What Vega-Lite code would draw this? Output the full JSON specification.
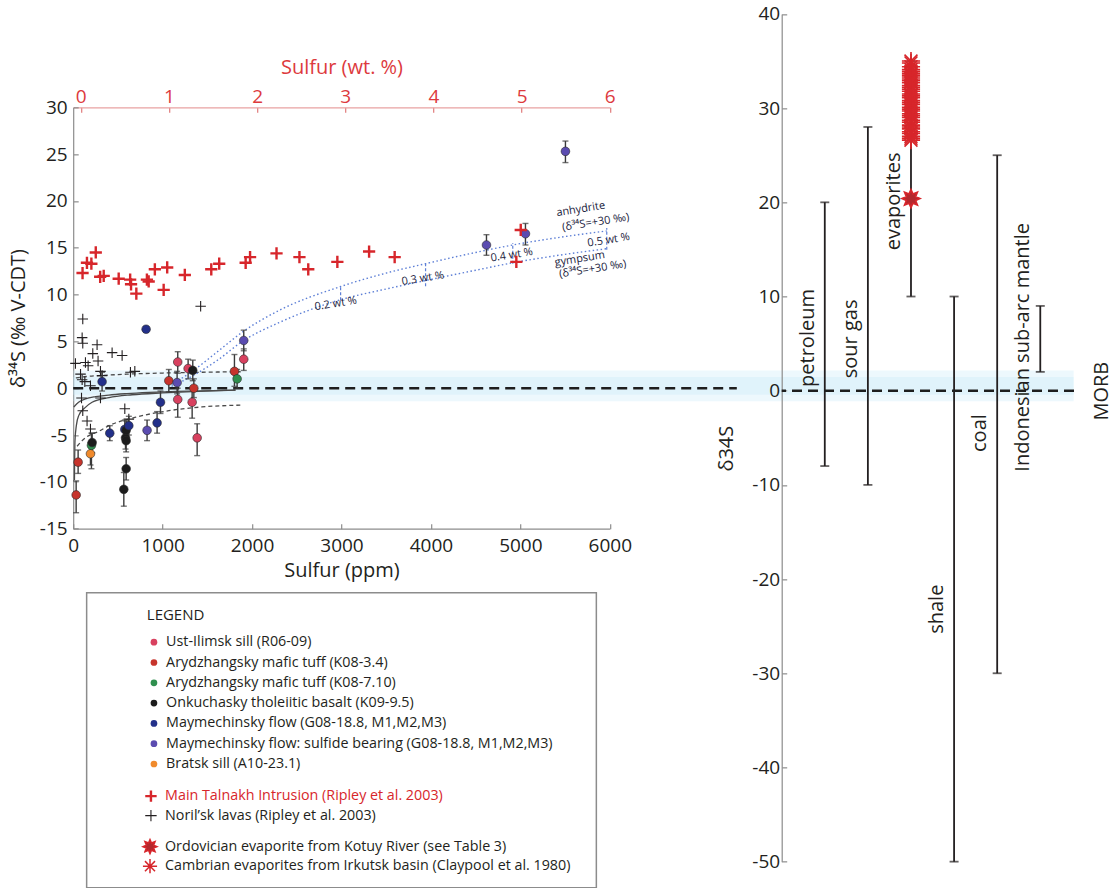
{
  "$schema": "https://vega.github.io/schema/vega-lite/v6.json",
  "background": "white",
  "padding": {"left": 8, "top": 4, "right": 4, "bottom": 0},
  "config": {
    "font": "Open Sans",
    "view": {"stroke": null},
    "axis": {
      "grid": false,
      "labelFont": "Open Sans",
      "titleFont": "Open Sans",
      "labelFontSize": 19,
      "titleFontSize": 20,
      "titleFontWeight": "normal",
      "labelColor": "#231f20",
      "titleColor": "#231f20",
      "domainColor": "#8c8c8c",
      "tickColor": "#8c8c8c",
      "domainWidth": 1.2,
      "tickWidth": 1.2,
      "tickSize": -5,
      "labelOverlap": false,
      "labelFlush": false
    },
    "legend": {
      "labelFont": "Open Sans",
      "titleFont": "Open Sans",
      "labelFontSize": 14.3,
      "labelColor": "#231f20",
      "labelLimit": 700
    }
  },
  "datasets": {
    "morb": [{"reference": "MORB", "d34S": 0}],
    "dots": [
      {"series": "Arydzhangsky mafic tuff (K08-3.4)", "S_ppm": 33, "d34S": -11.4, "lo": -13.3, "hi": -9.9},
      {"series": "Arydzhangsky mafic tuff (K08-3.4)", "S_ppm": 55, "d34S": -7.9, "lo": -9.1, "hi": -6.6},
      {"series": "Bratsk sill (A10-23.1)", "S_ppm": 193, "d34S": -7.0, "lo": -8.2, "hi": -5.8},
      {"series": "Arydzhangsky mafic tuff (K08-7.10)", "S_ppm": 204, "d34S": -6.1, "lo": -8.6, "hi": -4.8},
      {"series": "Onkuchasky tholeiitic basalt (K09-9.5)", "S_ppm": 212, "d34S": -5.8, "lo": -6.9, "hi": -4.8},
      {"series": "Maymechinsky flow (G08-18.8, M1,M2,M3)", "S_ppm": 323, "d34S": 0.7, "lo": -0.3, "hi": 1.7},
      {"series": "Maymechinsky flow (G08-18.8, M1,M2,M3)", "S_ppm": 409, "d34S": -4.8, "lo": -5.6, "hi": -4.0},
      {"series": "Onkuchasky tholeiitic basalt (K09-9.5)", "S_ppm": 566, "d34S": -10.8, "lo": -12.6, "hi": -9.0},
      {"series": "Maymechinsky flow (G08-18.8, M1,M2,M3)", "S_ppm": 577, "d34S": -4.4, "lo": -5.4, "hi": -3.4},
      {"series": "Onkuchasky tholeiitic basalt (K09-9.5)", "S_ppm": 585, "d34S": -5.3, "lo": -6.5, "hi": -4.1},
      {"series": "Onkuchasky tholeiitic basalt (K09-9.5)", "S_ppm": 592, "d34S": -5.6, "lo": -6.8, "hi": -4.4},
      {"series": "Onkuchasky tholeiitic basalt (K09-9.5)", "S_ppm": 592, "d34S": -8.6, "lo": -9.8, "hi": -7.4},
      {"series": "Onkuchasky tholeiitic basalt (K09-9.5)", "S_ppm": 592, "d34S": -4.5, "lo": -5.5, "hi": -3.5},
      {"series": "Maymechinsky flow (G08-18.8, M1,M2,M3)", "S_ppm": 622, "d34S": -4.0, "lo": -5.0, "hi": -3.0},
      {"series": "Maymechinsky flow (G08-18.8, M1,M2,M3)", "S_ppm": 815, "d34S": 6.3, "lo": 6.0, "hi": 6.6},
      {"series": "Maymechinsky flow: sulfide bearing (G08-18.8, M1,M2,M3)", "S_ppm": 826, "d34S": -4.5, "lo": -5.6, "hi": -3.4},
      {"series": "Maymechinsky flow (G08-18.8, M1,M2,M3)", "S_ppm": 938, "d34S": -3.7, "lo": -4.8, "hi": -2.5},
      {"series": "Maymechinsky flow (G08-18.8, M1,M2,M3)", "S_ppm": 976, "d34S": -1.5, "lo": -2.7, "hi": -0.3},
      {"series": "Arydzhangsky mafic tuff (K08-3.4)", "S_ppm": 1069, "d34S": 0.8, "lo": -0.4, "hi": 2.0},
      {"series": "Maymechinsky flow: sulfide bearing (G08-18.8, M1,M2,M3)", "S_ppm": 1162, "d34S": 0.6, "lo": -0.6, "hi": 1.8},
      {"series": "Ust-Ilimsk sill (R06-09)", "S_ppm": 1169, "d34S": 2.8, "lo": 1.6, "hi": 3.9},
      {"series": "Ust-Ilimsk sill (R06-09)", "S_ppm": 1169, "d34S": -1.2, "lo": -3.1, "hi": 0.0},
      {"series": "Ust-Ilimsk sill (R06-09)", "S_ppm": 1285, "d34S": 2.1, "lo": 1.0, "hi": 3.1},
      {"series": "Ust-Ilimsk sill (R06-09)", "S_ppm": 1330, "d34S": -1.5, "lo": -3.2, "hi": 0.1},
      {"series": "Onkuchasky tholeiitic basalt (K09-9.5)", "S_ppm": 1337, "d34S": 1.9, "lo": 0.8, "hi": 3.0},
      {"series": "Arydzhangsky mafic tuff (K08-3.4)", "S_ppm": 1349, "d34S": 0.0, "lo": -1.0, "hi": 1.0},
      {"series": "Ust-Ilimsk sill (R06-09)", "S_ppm": 1386, "d34S": -5.3, "lo": -7.2, "hi": -3.8},
      {"series": "Arydzhangsky mafic tuff (K08-3.4)", "S_ppm": 1803, "d34S": 1.8, "lo": 0.2, "hi": 3.6},
      {"series": "Arydzhangsky mafic tuff (K08-7.10)", "S_ppm": 1833, "d34S": 1.0, "lo": 0.0, "hi": 2.0},
      {"series": "Ust-Ilimsk sill (R06-09)", "S_ppm": 1907, "d34S": 3.1, "lo": 1.9, "hi": 4.2},
      {"series": "Maymechinsky flow: sulfide bearing (G08-18.8, M1,M2,M3)", "S_ppm": 1907, "d34S": 5.1, "lo": 4.0, "hi": 6.2},
      {"series": "Maymechinsky flow: sulfide bearing (G08-18.8, M1,M2,M3)", "S_ppm": 4621, "d34S": 15.3, "lo": 14.2, "hi": 16.4},
      {"series": "Maymechinsky flow: sulfide bearing (G08-18.8, M1,M2,M3)", "S_ppm": 5057, "d34S": 16.5, "lo": 15.3, "hi": 17.6},
      {"series": "Maymechinsky flow: sulfide bearing (G08-18.8, M1,M2,M3)", "S_ppm": 5504, "d34S": 25.3, "lo": 24.1, "hi": 26.4}
    ],
    "talnakh": [
      {"series": "Main Talnakh Intrusion (Ripley et al. 2003)", "S_wt": 0.02, "d34S": 12.3},
      {"series": "Main Talnakh Intrusion (Ripley et al. 2003)", "S_wt": 0.07, "d34S": 13.4},
      {"series": "Main Talnakh Intrusion (Ripley et al. 2003)", "S_wt": 0.12, "d34S": 13.3},
      {"series": "Main Talnakh Intrusion (Ripley et al. 2003)", "S_wt": 0.17, "d34S": 14.5},
      {"series": "Main Talnakh Intrusion (Ripley et al. 2003)", "S_wt": 0.22, "d34S": 11.9},
      {"series": "Main Talnakh Intrusion (Ripley et al. 2003)", "S_wt": 0.26, "d34S": 12.0},
      {"series": "Main Talnakh Intrusion (Ripley et al. 2003)", "S_wt": 0.43, "d34S": 11.7},
      {"series": "Main Talnakh Intrusion (Ripley et al. 2003)", "S_wt": 0.56, "d34S": 11.6},
      {"series": "Main Talnakh Intrusion (Ripley et al. 2003)", "S_wt": 0.57, "d34S": 11.1},
      {"series": "Main Talnakh Intrusion (Ripley et al. 2003)", "S_wt": 0.63, "d34S": 10.1},
      {"series": "Main Talnakh Intrusion (Ripley et al. 2003)", "S_wt": 0.75, "d34S": 11.6},
      {"series": "Main Talnakh Intrusion (Ripley et al. 2003)", "S_wt": 0.77, "d34S": 11.4},
      {"series": "Main Talnakh Intrusion (Ripley et al. 2003)", "S_wt": 0.84, "d34S": 12.7},
      {"series": "Main Talnakh Intrusion (Ripley et al. 2003)", "S_wt": 0.94, "d34S": 10.5},
      {"series": "Main Talnakh Intrusion (Ripley et al. 2003)", "S_wt": 0.98, "d34S": 12.9},
      {"series": "Main Talnakh Intrusion (Ripley et al. 2003)", "S_wt": 1.18, "d34S": 12.1},
      {"series": "Main Talnakh Intrusion (Ripley et al. 2003)", "S_wt": 1.48, "d34S": 12.7},
      {"series": "Main Talnakh Intrusion (Ripley et al. 2003)", "S_wt": 1.57, "d34S": 13.3},
      {"series": "Main Talnakh Intrusion (Ripley et al. 2003)", "S_wt": 1.87, "d34S": 13.4},
      {"series": "Main Talnakh Intrusion (Ripley et al. 2003)", "S_wt": 1.92, "d34S": 14.0},
      {"series": "Main Talnakh Intrusion (Ripley et al. 2003)", "S_wt": 2.22, "d34S": 14.4},
      {"series": "Main Talnakh Intrusion (Ripley et al. 2003)", "S_wt": 2.48, "d34S": 14.0},
      {"series": "Main Talnakh Intrusion (Ripley et al. 2003)", "S_wt": 2.58, "d34S": 12.7},
      {"series": "Main Talnakh Intrusion (Ripley et al. 2003)", "S_wt": 2.91, "d34S": 13.5},
      {"series": "Main Talnakh Intrusion (Ripley et al. 2003)", "S_wt": 3.27, "d34S": 14.6},
      {"series": "Main Talnakh Intrusion (Ripley et al. 2003)", "S_wt": 3.56, "d34S": 14.0},
      {"series": "Main Talnakh Intrusion (Ripley et al. 2003)", "S_wt": 4.99, "d34S": 16.9},
      {"series": "Main Talnakh Intrusion (Ripley et al. 2003)", "S_wt": 4.94, "d34S": 13.5}
    ],
    "norilsk": [
      {"series": "Noril’sk lavas (Ripley et al. 2003)", "S_ppm": 107, "d34S": 7.4},
      {"series": "Noril’sk lavas (Ripley et al. 2003)", "S_ppm": 100, "d34S": 5.4},
      {"series": "Noril’sk lavas (Ripley et al. 2003)", "S_ppm": 107, "d34S": 4.8},
      {"series": "Noril’sk lavas (Ripley et al. 2003)", "S_ppm": 267, "d34S": 4.65},
      {"series": "Noril’sk lavas (Ripley et al. 2003)", "S_ppm": 219, "d34S": 3.7},
      {"series": "Noril’sk lavas (Ripley et al. 2003)", "S_ppm": 278, "d34S": 2.9},
      {"series": "Noril’sk lavas (Ripley et al. 2003)", "S_ppm": 435, "d34S": 3.8},
      {"series": "Noril’sk lavas (Ripley et al. 2003)", "S_ppm": 547, "d34S": 3.5},
      {"series": "Noril’sk lavas (Ripley et al. 2003)", "S_ppm": 25, "d34S": 2.65},
      {"series": "Noril’sk lavas (Ripley et al. 2003)", "S_ppm": 137, "d34S": 2.75},
      {"series": "Noril’sk lavas (Ripley et al. 2003)", "S_ppm": 167, "d34S": 2.4},
      {"series": "Noril’sk lavas (Ripley et al. 2003)", "S_ppm": 82, "d34S": 1.5},
      {"series": "Noril’sk lavas (Ripley et al. 2003)", "S_ppm": 305, "d34S": 1.8},
      {"series": "Noril’sk lavas (Ripley et al. 2003)", "S_ppm": 323, "d34S": 1.35},
      {"series": "Noril’sk lavas (Ripley et al. 2003)", "S_ppm": 640, "d34S": 1.7},
      {"series": "Noril’sk lavas (Ripley et al. 2003)", "S_ppm": 689, "d34S": 1.8},
      {"series": "Noril’sk lavas (Ripley et al. 2003)", "S_ppm": 100, "d34S": 0.9},
      {"series": "Noril’sk lavas (Ripley et al. 2003)", "S_ppm": 130, "d34S": 0.7},
      {"series": "Noril’sk lavas (Ripley et al. 2003)", "S_ppm": 193, "d34S": 0.27},
      {"series": "Noril’sk lavas (Ripley et al. 2003)", "S_ppm": 93, "d34S": -1.05},
      {"series": "Noril’sk lavas (Ripley et al. 2003)", "S_ppm": 305, "d34S": -1.05},
      {"series": "Noril’sk lavas (Ripley et al. 2003)", "S_ppm": 107, "d34S": -2.4},
      {"series": "Noril’sk lavas (Ripley et al. 2003)", "S_ppm": 155, "d34S": -3.5},
      {"series": "Noril’sk lavas (Ripley et al. 2003)", "S_ppm": 193, "d34S": -4.36},
      {"series": "Noril’sk lavas (Ripley et al. 2003)", "S_ppm": 577, "d34S": -2.2},
      {"series": "Noril’sk lavas (Ripley et al. 2003)", "S_ppm": 622, "d34S": -3.3},
      {"series": "Noril’sk lavas (Ripley et al. 2003)", "S_ppm": 1425, "d34S": 8.75}
    ],
    "curves": [
      {"curve": "bound upper", "S_ppm": 30, "d34S": 1.1},
      {"curve": "bound upper", "S_ppm": 150, "d34S": 1.25},
      {"curve": "bound upper", "S_ppm": 300, "d34S": 1.35},
      {"curve": "bound upper", "S_ppm": 600, "d34S": 1.5},
      {"curve": "bound upper", "S_ppm": 1000, "d34S": 1.62},
      {"curve": "bound upper", "S_ppm": 1400, "d34S": 1.7},
      {"curve": "bound upper", "S_ppm": 1900, "d34S": 1.76},
      {"curve": "bound lower", "S_ppm": 44, "d34S": -6.2},
      {"curve": "bound lower", "S_ppm": 100, "d34S": -5.6},
      {"curve": "bound lower", "S_ppm": 150, "d34S": -5.2},
      {"curve": "bound lower", "S_ppm": 286, "d34S": -4.6},
      {"curve": "bound lower", "S_ppm": 400, "d34S": -4.0},
      {"curve": "bound lower", "S_ppm": 700, "d34S": -3.1},
      {"curve": "bound lower", "S_ppm": 1070, "d34S": -2.4},
      {"curve": "bound lower", "S_ppm": 1440, "d34S": -2.0},
      {"curve": "bound lower", "S_ppm": 1900, "d34S": -1.8},
      {"curve": "mixing a", "S_ppm": 14, "d34S": -9.8},
      {"curve": "mixing a", "S_ppm": 20, "d34S": -5.6},
      {"curve": "mixing a", "S_ppm": 35, "d34S": -4.0},
      {"curve": "mixing a", "S_ppm": 63, "d34S": -2.9},
      {"curve": "mixing a", "S_ppm": 130, "d34S": -2.1},
      {"curve": "mixing a", "S_ppm": 211, "d34S": -1.5},
      {"curve": "mixing a", "S_ppm": 400, "d34S": -1.0},
      {"curve": "mixing a", "S_ppm": 659, "d34S": -0.7},
      {"curve": "mixing a", "S_ppm": 1000, "d34S": -0.5},
      {"curve": "mixing a", "S_ppm": 1400, "d34S": -0.33},
      {"curve": "mixing a", "S_ppm": 1815, "d34S": -0.2},
      {"curve": "mixing b", "S_ppm": 7, "d34S": -2.0},
      {"curve": "mixing b", "S_ppm": 60, "d34S": -1.5},
      {"curve": "mixing b", "S_ppm": 137, "d34S": -1.15},
      {"curve": "mixing b", "S_ppm": 250, "d34S": -0.9},
      {"curve": "mixing b", "S_ppm": 398, "d34S": -0.73},
      {"curve": "mixing b", "S_ppm": 600, "d34S": -0.58},
      {"curve": "mixing b", "S_ppm": 845, "d34S": -0.45},
      {"curve": "mixing b", "S_ppm": 1300, "d34S": -0.3},
      {"curve": "mixing b", "S_ppm": 1815, "d34S": -0.2},
      {"curve": "anhydrite", "S_ppm": 1100, "d34S": 0.4},
      {"curve": "anhydrite", "S_ppm": 1330, "d34S": 1.8},
      {"curve": "anhydrite", "S_ppm": 1600, "d34S": 3.8},
      {"curve": "anhydrite", "S_ppm": 1907, "d34S": 6.1},
      {"curve": "anhydrite", "S_ppm": 2300, "d34S": 8.3},
      {"curve": "anhydrite", "S_ppm": 2970, "d34S": 10.8},
      {"curve": "anhydrite", "S_ppm": 3500, "d34S": 12.3},
      {"curve": "anhydrite", "S_ppm": 3940, "d34S": 13.3},
      {"curve": "anhydrite", "S_ppm": 4500, "d34S": 14.5},
      {"curve": "anhydrite", "S_ppm": 4915, "d34S": 15.3},
      {"curve": "anhydrite", "S_ppm": 5500, "d34S": 16.2},
      {"curve": "anhydrite", "S_ppm": 5966, "d34S": 16.8},
      {"curve": "gypsum", "S_ppm": 1100, "d34S": 0.2},
      {"curve": "gypsum", "S_ppm": 1330, "d34S": 1.3},
      {"curve": "gypsum", "S_ppm": 1600, "d34S": 2.9},
      {"curve": "gypsum", "S_ppm": 1907, "d34S": 5.1},
      {"curve": "gypsum", "S_ppm": 2300, "d34S": 7.0},
      {"curve": "gypsum", "S_ppm": 2970, "d34S": 9.4},
      {"curve": "gypsum", "S_ppm": 3500, "d34S": 10.6},
      {"curve": "gypsum", "S_ppm": 3940, "d34S": 11.5},
      {"curve": "gypsum", "S_ppm": 4500, "d34S": 12.6},
      {"curve": "gypsum", "S_ppm": 4915, "d34S": 13.4},
      {"curve": "gypsum", "S_ppm": 5500, "d34S": 14.3},
      {"curve": "gypsum", "S_ppm": 5966, "d34S": 14.9}
    ],
    "wtMarks": [
      {"added": "0.2 wt %", "S_ppm": 2990, "lo": 9.4, "hi": 10.9},
      {"added": "0.3 wt %", "S_ppm": 3940, "lo": 10.9, "hi": 13.5},
      {"added": "0.4 wt %", "S_ppm": 4915, "lo": 13.3, "hi": 15.5},
      {"added": "0.5 wt %", "S_ppm": 5966, "lo": 14.8, "hi": 17.1}
    ],
    "notes": [
      {"note": "anhydrite", "S_ppm": 5675, "d34S": 19.1},
      {"note": "(δ³⁴S=+30 ‰)", "S_ppm": 5843, "d34S": 17.7},
      {"note": "0.5 wt %", "S_ppm": 5988, "d34S": 15.8},
      {"note": "gympsum", "S_ppm": 5664, "d34S": 13.8},
      {"note": "(δ³⁴S=+30 ‰)", "S_ppm": 5809, "d34S": 12.7},
      {"note": "0.4 wt %", "S_ppm": 4904, "d34S": 14.2},
      {"note": "0.3 wt %", "S_ppm": 3909, "d34S": 11.7},
      {"note": "0.2 wt %", "S_ppm": 2936, "d34S": 9.0}
    ],
    "ranges": [
      {"source": "petroleum", "lo": -8, "hi": 20},
      {"source": "sour gas", "lo": -10, "hi": 28},
      {"source": "evaporites", "lo": 10, "hi": 35},
      {"source": "shale", "lo": -50, "hi": 10},
      {"source": "coal", "lo": -30, "hi": 25},
      {"source": "Indonesian sub-arc mantle", "lo": 2, "hi": 9}
    ],
    "rangeLabels": [
      {"source": "petroleum", "d34S": 5.6},
      {"source": "sour gas", "d34S": 5.5},
      {"source": "evaporites", "d34S": 20.1},
      {"source": "shale", "d34S": -23.2},
      {"source": "coal", "d34S": -4.5},
      {"source": "Indonesian sub-arc mantle", "d34S": 4.6}
    ],
    "evaporites": [
      {"series": "Ordovician evaporite from Kotuy River (see Table 3)", "source": "evaporites", "d34S": 20.4},
      {"series": "Cambrian evaporites from Irkutsk basin (Claypool et al. 1980)", "source": "evaporites", "d34S": 35.0},
      {"series": "Cambrian evaporites from Irkutsk basin (Claypool et al. 1980)", "source": "evaporites", "d34S": 34.8},
      {"series": "Cambrian evaporites from Irkutsk basin (Claypool et al. 1980)", "source": "evaporites", "d34S": 34.4},
      {"series": "Cambrian evaporites from Irkutsk basin (Claypool et al. 1980)", "source": "evaporites", "d34S": 34.1},
      {"series": "Cambrian evaporites from Irkutsk basin (Claypool et al. 1980)", "source": "evaporites", "d34S": 33.9},
      {"series": "Cambrian evaporites from Irkutsk basin (Claypool et al. 1980)", "source": "evaporites", "d34S": 33.7},
      {"series": "Cambrian evaporites from Irkutsk basin (Claypool et al. 1980)", "source": "evaporites", "d34S": 33.5},
      {"series": "Cambrian evaporites from Irkutsk basin (Claypool et al. 1980)", "source": "evaporites", "d34S": 33.3},
      {"series": "Cambrian evaporites from Irkutsk basin (Claypool et al. 1980)", "source": "evaporites", "d34S": 33.1},
      {"series": "Cambrian evaporites from Irkutsk basin (Claypool et al. 1980)", "source": "evaporites", "d34S": 32.9},
      {"series": "Cambrian evaporites from Irkutsk basin (Claypool et al. 1980)", "source": "evaporites", "d34S": 32.7},
      {"series": "Cambrian evaporites from Irkutsk basin (Claypool et al. 1980)", "source": "evaporites", "d34S": 32.4},
      {"series": "Cambrian evaporites from Irkutsk basin (Claypool et al. 1980)", "source": "evaporites", "d34S": 32.2},
      {"series": "Cambrian evaporites from Irkutsk basin (Claypool et al. 1980)", "source": "evaporites", "d34S": 32.0},
      {"series": "Cambrian evaporites from Irkutsk basin (Claypool et al. 1980)", "source": "evaporites", "d34S": 31.8},
      {"series": "Cambrian evaporites from Irkutsk basin (Claypool et al. 1980)", "source": "evaporites", "d34S": 31.5},
      {"series": "Cambrian evaporites from Irkutsk basin (Claypool et al. 1980)", "source": "evaporites", "d34S": 31.3},
      {"series": "Cambrian evaporites from Irkutsk basin (Claypool et al. 1980)", "source": "evaporites", "d34S": 31.1},
      {"series": "Cambrian evaporites from Irkutsk basin (Claypool et al. 1980)", "source": "evaporites", "d34S": 30.8},
      {"series": "Cambrian evaporites from Irkutsk basin (Claypool et al. 1980)", "source": "evaporites", "d34S": 30.6},
      {"series": "Cambrian evaporites from Irkutsk basin (Claypool et al. 1980)", "source": "evaporites", "d34S": 30.4},
      {"series": "Cambrian evaporites from Irkutsk basin (Claypool et al. 1980)", "source": "evaporites", "d34S": 30.1},
      {"series": "Cambrian evaporites from Irkutsk basin (Claypool et al. 1980)", "source": "evaporites", "d34S": 29.9},
      {"series": "Cambrian evaporites from Irkutsk basin (Claypool et al. 1980)", "source": "evaporites", "d34S": 29.7},
      {"series": "Cambrian evaporites from Irkutsk basin (Claypool et al. 1980)", "source": "evaporites", "d34S": 29.4},
      {"series": "Cambrian evaporites from Irkutsk basin (Claypool et al. 1980)", "source": "evaporites", "d34S": 29.2},
      {"series": "Cambrian evaporites from Irkutsk basin (Claypool et al. 1980)", "source": "evaporites", "d34S": 29.0},
      {"series": "Cambrian evaporites from Irkutsk basin (Claypool et al. 1980)", "source": "evaporites", "d34S": 28.7},
      {"series": "Cambrian evaporites from Irkutsk basin (Claypool et al. 1980)", "source": "evaporites", "d34S": 28.5},
      {"series": "Cambrian evaporites from Irkutsk basin (Claypool et al. 1980)", "source": "evaporites", "d34S": 28.2},
      {"series": "Cambrian evaporites from Irkutsk basin (Claypool et al. 1980)", "source": "evaporites", "d34S": 28.0},
      {"series": "Cambrian evaporites from Irkutsk basin (Claypool et al. 1980)", "source": "evaporites", "d34S": 27.8},
      {"series": "Cambrian evaporites from Irkutsk basin (Claypool et al. 1980)", "source": "evaporites", "d34S": 27.5},
      {"series": "Cambrian evaporites from Irkutsk basin (Claypool et al. 1980)", "source": "evaporites", "d34S": 27.3},
      {"series": "Cambrian evaporites from Irkutsk basin (Claypool et al. 1980)", "source": "evaporites", "d34S": 27.0},
      {"series": "Cambrian evaporites from Irkutsk basin (Claypool et al. 1980)", "source": "evaporites", "d34S": 26.8},
      {"series": "Cambrian evaporites from Irkutsk basin (Claypool et al. 1980)", "source": "evaporites", "d34S": 26.6}
    ]
  },
  "columns": 2,
  "bounds": "flush",
  "align": "each",
  "center": true,
  "spacing": {"row": 63.7, "column": 171.7},
  "resolve": {"legend": {"fill": "independent", "stroke": "independent", "shape": "independent"}},
  "concat": [
    {
      "width": 536.6,
      "height": 421.3,
      "layer": [
        {
          "layer": [
            {
              "data": {"name": "morb"},
              "mark": {"type": "rect", "color": "#c4e8f8", "opacity": 0.3},
              "encoding": {
                "x": {"datum": 0, "type": "quantitative", "scale": {"domain": [0, 6000], "nice": false, "zero": false}},
                "x2": {"datum": 11187},
                "y": {"datum": -1.4, "type": "quantitative", "scale": {"domain": [-15, 30], "nice": false, "zero": false}},
                "y2": {"datum": 1.9}
              }
            },
            {
              "data": {"name": "morb"},
              "mark": {"type": "rect", "color": "#c4e8f8", "opacity": 0.3},
              "encoding": {
                "x": {"datum": 0, "type": "quantitative", "scale": {"domain": [0, 6000], "nice": false, "zero": false}},
                "x2": {"datum": 11187},
                "y": {"datum": -0.7, "type": "quantitative", "scale": {"domain": [-15, 30], "nice": false, "zero": false}},
                "y2": {"datum": 1.2}
              }
            },
            {
              "data": {"name": "curves"},
              "transform": [{"filter": {"field": "curve", "oneOf": ["mixing a", "mixing b"]}}],
              "mark": {"type": "line", "color": "#4a4a4a", "strokeWidth": 1.3, "interpolate": "monotone"},
              "encoding": {
                "x": {"field": "S_ppm", "type": "quantitative", "scale": {"domain": [0, 6000], "nice": false, "zero": false}},
                "y": {"field": "d34S", "type": "quantitative", "scale": {"domain": [-15, 30], "nice": false, "zero": false}},
                "detail": {"field": "curve"}
              }
            },
            {
              "data": {"name": "curves"},
              "transform": [{"filter": {"field": "curve", "oneOf": ["bound upper", "bound lower"]}}],
              "mark": {"type": "line", "color": "#4a4a4a", "strokeWidth": 1.3, "strokeDash": [4, 3], "interpolate": "monotone"},
              "encoding": {
                "x": {"field": "S_ppm", "type": "quantitative", "scale": {"domain": [0, 6000], "nice": false, "zero": false}},
                "y": {"field": "d34S", "type": "quantitative", "scale": {"domain": [-15, 30], "nice": false, "zero": false}},
                "detail": {"field": "curve"}
              }
            },
            {
              "data": {"name": "curves"},
              "transform": [{"filter": {"field": "curve", "oneOf": ["anhydrite", "gypsum"]}}],
              "mark": {"type": "line", "color": "#5d7fd6", "strokeWidth": 1.4, "strokeDash": [1.5, 2.5], "interpolate": "monotone"},
              "encoding": {
                "x": {"field": "S_ppm", "type": "quantitative", "scale": {"domain": [0, 6000], "nice": false, "zero": false}},
                "y": {"field": "d34S", "type": "quantitative", "scale": {"domain": [-15, 30], "nice": false, "zero": false}},
                "detail": {"field": "curve"}
              }
            },
            {
              "data": {"name": "wtMarks"},
              "mark": {"type": "rule", "color": "#5d7fd6", "strokeWidth": 1.2, "strokeDash": [3, 2]},
              "encoding": {
                "x": {"field": "S_ppm", "type": "quantitative", "scale": {"domain": [0, 6000], "nice": false, "zero": false}},
                "y": {"field": "lo", "type": "quantitative", "scale": {"domain": [-15, 30], "nice": false, "zero": false}},
                "y2": {"field": "hi"}
              }
            },
            {
              "data": {"name": "morb"},
              "mark": {"type": "rule", "color": "#1e1e1e", "strokeWidth": 2.6, "strokeDash": [10, 6]},
              "encoding": {
                "x": {"datum": 0, "type": "quantitative", "scale": {"domain": [0, 6000], "nice": false, "zero": false}},
                "x2": {"datum": 7420},
                "y": {"field": "d34S", "type": "quantitative", "scale": {"domain": [-15, 30], "nice": false, "zero": false}}
              }
            },
            {
              "data": {"name": "norilsk"},
              "mark": {"type": "point", "shape": "M-1,0L1,0M0,-1L0,1", "size": 110, "strokeWidth": 1.1, "filled": false, "opacity": 1},
              "encoding": {
                "x": {"field": "S_ppm", "type": "quantitative", "scale": {"domain": [0, 6000], "nice": false, "zero": false}},
                "y": {"field": "d34S", "type": "quantitative", "scale": {"domain": [-15, 30], "nice": false, "zero": false}},
                "stroke": {
                  "field": "series",
                  "type": "nominal",
                  "scale": {
                    "domain": ["Main Talnakh Intrusion (Ripley et al. 2003)", "Noril’sk lavas (Ripley et al. 2003)"],
                    "range": ["#d7262b", "#231f20"]
                  },
                  "legend": {
                    "orient": "none",
                    "legendX": 70.6,
                    "legendY": 681.6,
                    "title": null,
                    "symbolType": "M-1,0L1,0M0,-1L0,1",
                    "symbolSize": 130,
                    "symbolFillColor": "transparent",
                    "symbolStrokeWidth": {"expr": "datum.value === 'Main Talnakh Intrusion (Ripley et al. 2003)' ? 2.4 : 1.1"},
                    "labelColor": {"expr": "datum.value === 'Main Talnakh Intrusion (Ripley et al. 2003)' ? '#d7262b' : '#231f20'"},
                    "rowPadding": 0.5,
                    "labelOffset": 7
                  }
                }
              }
            },
            {
              "data": {"name": "dots"},
              "mark": {"type": "errorbar", "ticks": {"size": 6}, "color": "#3a3a3a", "thickness": 1.4},
              "encoding": {
                "x": {"field": "S_ppm", "type": "quantitative", "scale": {"domain": [0, 6000], "nice": false, "zero": false}},
                "y": {"field": "lo", "type": "quantitative", "title": "δ³⁴S (‰ V-CDT)", "scale": {"domain": [-15, 30], "nice": false, "zero": false}},
                "y2": {"field": "hi"}
              }
            },
            {
              "data": {"name": "dots"},
              "mark": {"type": "point", "filled": true, "size": 75, "opacity": 1, "stroke": "#2a2a2a", "strokeWidth": 0.6},
              "encoding": {
                "x": {
                  "field": "S_ppm",
                  "type": "quantitative",
                  "scale": {"domain": [0, 6000], "nice": false, "zero": false},
                  "axis": {"orient": "bottom", "values": [0, 1000, 2000, 3000, 4000, 5000, 6000], "labelExpr": "datum.value + ''", "title": "Sulfur (ppm)", "labelPadding": 13, "titlePadding": 5}
                },
                "y": {
                  "field": "d34S",
                  "type": "quantitative",
                  "title": "δ³⁴S (‰ V-CDT)",
                  "scale": {"domain": [-15, 30], "nice": false, "zero": false},
                  "axis": {"values": [-15, -10, -5, 0, 5, 10, 15, 20, 25, 30], "labelExpr": "datum.value + ''", "labelPadding": 11, "titlePadding": 11}
                },
                "fill": {
                  "field": "series",
                  "type": "nominal",
                  "scale": {
                    "domain": [
                      "Ust-Ilimsk sill (R06-09)",
                      "Arydzhangsky mafic tuff (K08-3.4)",
                      "Arydzhangsky mafic tuff (K08-7.10)",
                      "Onkuchasky tholeiitic basalt (K09-9.5)",
                      "Maymechinsky flow (G08-18.8, M1,M2,M3)",
                      "Maymechinsky flow: sulfide bearing (G08-18.8, M1,M2,M3)",
                      "Bratsk sill (A10-23.1)"
                    ],
                    "range": ["#d8415f", "#c6342c", "#2f8f4e", "#1c1c1c", "#23308a", "#5b4cb0", "#f08a2c"]
                  },
                  "legend": {
                    "orient": "none",
                    "legendX": 73.6,
                    "legendY": 500.7,
                    "title": "LEGEND",
                    "titleFontSize": 15,
                    "titleFontWeight": "normal",
                    "titleColor": "#231f20",
                    "titlePadding": 12,
                    "symbolType": "circle",
                    "symbolSize": 45,
                    "symbolStrokeWidth": 0,
                    "rowPadding": 5.3,
                    "labelOffset": 5
                  }
                }
              }
            },
            {
              "data": {"name": "notes"},
              "mark": {"type": "text", "fontSize": 11, "color": "#1b2340", "angle": 351, "align": "center", "baseline": "middle"},
              "encoding": {
                "x": {"field": "S_ppm", "type": "quantitative", "scale": {"domain": [0, 6000], "nice": false, "zero": false}},
                "y": {"field": "d34S", "type": "quantitative", "scale": {"domain": [-15, 30], "nice": false, "zero": false}},
                "text": {"field": "note"}
              }
            }
          ]
        },
        {
          "data": {"name": "talnakh"},
          "mark": {"type": "point", "shape": "M-1,0L1,0M0,-1L0,1", "size": 150, "strokeWidth": 2.4, "filled": false, "opacity": 1},
          "encoding": {
            "x": {
              "field": "S_wt",
              "type": "quantitative",
              "scale": {"domain": [-0.086, 6], "nice": false, "zero": false},
              "axis": {"orient": "top", "values": [0, 1, 2, 3, 4, 5, 6], "title": "Sulfur (wt. %)", "labelColor": "#dd3a3d", "titleColor": "#dd3a3d", "domainColor": "#e8a2a2", "tickColor": "#e07a7a", "labelPadding": 6, "titlePadding": 10}
            },
            "y": {"field": "d34S", "type": "quantitative", "title": "δ³⁴S (‰ V-CDT)", "scale": {"domain": [-15, 30], "nice": false, "zero": false}},
            "stroke": {
              "field": "series",
              "type": "nominal",
              "scale": {
                "domain": ["Main Talnakh Intrusion (Ripley et al. 2003)", "Noril’sk lavas (Ripley et al. 2003)"],
                "range": ["#d7262b", "#231f20"]
              },
              "legend": {
                "orient": "none",
                "legendX": 70.6,
                "legendY": 681.6,
                "title": null,
                "symbolType": "M-1,0L1,0M0,-1L0,1",
                "symbolSize": 130,
                "symbolFillColor": "transparent",
                "symbolStrokeWidth": {"expr": "datum.value === 'Main Talnakh Intrusion (Ripley et al. 2003)' ? 2.4 : 1.1"},
                "labelColor": {"expr": "datum.value === 'Main Talnakh Intrusion (Ripley et al. 2003)' ? '#d7262b' : '#231f20'"},
                "rowPadding": 0.5,
                "labelOffset": 7
              }
            }
          }
        }
      ],
      "resolve": {"scale": {"x": "independent"}, "axis": {"x": "independent"}}
    },
    {
      "width": 292.3,
      "height": 421.3,
      "layer": [
        {
          "layer": [
            {
              "data": {"name": "ranges"},
              "mark": {"type": "errorbar", "ticks": {"size": 9}, "color": "#231f20", "thickness": 1.8},
              "encoding": {
                "x": {
                  "field": "source",
                  "type": "nominal",
                  "scale": {"type": "point", "domain": ["petroleum", "sour gas", "evaporites", "shale", "coal", "Indonesian sub-arc mantle"], "padding": 0.891, "align": 0.561},
                  "axis": null
                },
                "y": {
                  "field": "lo",
                  "type": "quantitative",
                  "title": "δ34S",
                  "scale": {"domain": [-50, 40], "nice": false, "zero": false, "range": [754.3, -93.4]},
                  "axis": {"values": [-50, -40, -30, -20, -10, 0, 10, 20, 30, 40], "labelExpr": "datum.value + ''", "labelPadding": 7, "titlePadding": 15, "titleY": 340.8}
                },
                "y2": {"field": "hi"}
              }
            },
            {
              "data": {"name": "evaporites"},
              "mark": {"type": "point", "filled": true, "fill": "#b3282d", "stroke": "#d7262b", "strokeWidth": 1.6, "size": 330, "opacity": 1},
              "encoding": {
                "x": {
                  "field": "source",
                  "type": "nominal",
                  "scale": {"type": "point", "domain": ["petroleum", "sour gas", "evaporites", "shale", "coal", "Indonesian sub-arc mantle"], "padding": 0.891, "align": 0.561}
                },
                "y": {"field": "d34S", "type": "quantitative", "title": "δ34S", "scale": {"domain": [-50, 40], "nice": false, "zero": false, "range": [754.3, -93.4]}},
                "shape": {
                  "field": "series",
                  "type": "nominal",
                  "scale": {
                    "domain": ["Ordovician evaporite from Kotuy River (see Table 3)", "Cambrian evaporites from Irkutsk basin (Claypool et al. 1980)"],
                    "range": [
                      "M1,0L0.51,0.21L0.71,0.71L0.21,0.51L0,1L-0.21,0.51L-0.71,0.71L-0.51,0.21L-1,0L-0.51,-0.21L-0.71,-0.71L-0.21,-0.51L0,-1L0.21,-0.51L0.71,-0.71L0.51,-0.21Z",
                      "M-1,0L1,0M0,-1L0,1M-0.71,-0.71L0.71,0.71M-0.71,0.71L0.71,-0.71"
                    ]
                  },
                  "legend": {
                    "orient": "none",
                    "legendX": -639.7,
                    "legendY": 731.3,
                    "title": null,
                    "symbolSize": 200,
                    "rowPadding": -2.5,
                    "labelOffset": 7,
                    "encode": {
                      "symbols": {"fill": {"value": "#b3282d"}, "stroke": {"value": "#d7262b"}, "strokeWidth": {"value": 1.5}, "opacity": {"value": 1}}
                    }
                  }
                }
              }
            },
            {
              "data": {"name": "rangeLabels"},
              "mark": {"type": "text", "fontSize": 20, "color": "#231f20", "angle": 270, "align": "center", "baseline": "middle", "dy": -17},
              "encoding": {
                "x": {
                  "field": "source",
                  "type": "nominal",
                  "scale": {"type": "point", "domain": ["petroleum", "sour gas", "evaporites", "shale", "coal", "Indonesian sub-arc mantle"], "padding": 0.891, "align": 0.561}
                },
                "y": {"field": "d34S", "type": "quantitative", "title": "δ34S", "scale": {"domain": [-50, 40], "nice": false, "zero": false, "range": [754.3, -93.4]}},
                "text": {"field": "source"}
              }
            }
          ]
        },
        {
          "data": {"name": "morb"},
          "mark": {"type": "rule", "color": "#1e1e1e", "strokeWidth": 2.6, "strokeDash": [10, 6]},
          "encoding": {
            "y": {
              "field": "d34S",
              "type": "quantitative",
              "scale": {"domain": [-50, 40], "nice": false, "zero": false, "range": [754.3, -93.4]},
              "axis": {"orient": "right", "values": [0], "labelExpr": "'MORB'", "labelAngle": 270, "labelAlign": "center", "labelBaseline": "top", "labelPadding": 17, "labelFontSize": 20, "ticks": false, "domain": false, "title": null}
            }
          }
        }
      ],
      "resolve": {"scale": {"y": "independent"}}
    },
    {
      "width": 509.7,
      "height": 295,
      "data": {"values": []},
      "mark": "point",
      "encoding": {},
      "view": {"stroke": "#8c8c8c", "strokeWidth": 1.5}
    }
  ]
}
